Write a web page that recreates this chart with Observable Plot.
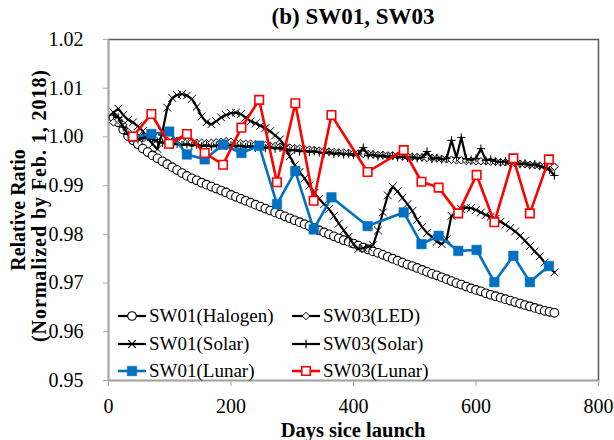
<!DOCTYPE html>
<html><head><meta charset="utf-8">
<script src="https://cdn.jsdelivr.net/npm/d3@7"></script>
<script src="https://cdn.jsdelivr.net/npm/@observablehq/plot@0.6"></script>
<style>
body{margin:0;background:#fff;}
#wrap{position:relative;width:614px;height:440px;font-family:"Liberation Serif","Times New Roman",serif;color:#000;overflow:hidden;background:#fff}
#title{height:34px;line-height:34px;font-size:23px;font-weight:bold;text-align:center;padding-left:108px;padding-right:16px;box-sizing:border-box;width:614px}
.leg{position:absolute;display:flex;align-items:center;font-size:19px;white-space:nowrap;line-height:20px;height:20px}
.leg svg{margin-right:3px;overflow:visible}
#labels{position:absolute;left:0;top:0}
</style></head><body>
<div id="wrap"><div id="title">(b) SW01, SW03</div><div id="chart"></div></div>
<script>
// ---- data ----
const xTicks = [0, 200, 400, 600, 800];
const yTicks = [0.95, 0.96, 0.97, 0.98, 0.99, 1.00, 1.01, 1.02];

const days = [
  8,16,24,32,40,48,56,64,72,80,
  88,96,104,112,120,128,136,144,152,160,
  168,176,184,192,200,208,216,224,232,240,
  248,256,264,272,280,288,296,304,312,320,
  328,336,344,352,360,368,376,384,392,400,
  408,416,424,432,440,448,456,464,472,480,
  488,496,504,512,520,528,536,544,552,560,
  568,576,584,592,600,608,616,624,632,640,
  648,656,664,672,680,688,696,704,712,720,
  728];

const sw01Halogen = [
  1.0040,1.0030,1.0015,1.0002,0.9993,0.9985,0.9976,0.9969,0.9962,0.9956,
  0.9950,0.9944,0.9938,0.9932,0.9926,0.9920,0.9915,0.9911,0.9906,0.9902,
  0.9898,0.9894,0.9890,0.9886,0.9881,0.9877,0.9873,0.9869,0.9865,0.9861,
  0.9857,0.9853,0.9849,0.9845,0.9841,0.9837,0.9833,0.9829,0.9825,0.9821,
  0.9817,0.9813,0.9808,0.9804,0.9800,0.9796,0.9792,0.9788,0.9785,0.9781,
  0.9777,0.9773,0.9769,0.9765,0.9762,0.9758,0.9754,0.9750,0.9746,0.9742,
  0.9738,0.9735,0.9731,0.9727,0.9723,0.9719,0.9716,0.9712,0.9708,0.9704,
  0.9700,0.9697,0.9693,0.9689,0.9686,0.9683,0.9679,0.9676,0.9673,0.9670,
  0.9667,0.9664,0.9661,0.9658,0.9655,0.9652,0.9649,0.9646,0.9643,0.9641,
  0.9639];

const sw03LED = [
  1.0030,1.0035,1.0025,1.0010,1.0002,0.9998,1.0000,1.0002,1.0003,1.0000,
  0.9995,0.9992,0.9990,0.9992,0.9991,0.9990,0.9989,0.9988,0.9988,0.9987,
  0.9988,0.9989,0.9990,0.9991,0.9990,0.9988,0.9987,0.9986,0.9986,0.9985,
  0.9984,0.9983,0.9982,0.9981,0.9980,0.9979,0.9978,0.9977,0.9976,0.9975,
  0.9974,0.9973,0.9972,0.9971,0.9970,0.9969,0.9968,0.9968,0.9967,0.9966,
  0.9966,0.9965,0.9965,0.9964,0.9963,0.9963,0.9962,0.9962,0.9961,0.9960,
  0.9960,0.9959,0.9959,0.9958,0.9957,0.9957,0.9956,0.9955,0.9954,0.9953,
  0.9952,0.9952,0.9951,0.9951,0.9950,0.9950,0.9950,0.9949,0.9949,0.9948,
  0.9948,0.9947,0.9946,0.9945,0.9944,0.9943,0.9942,0.9941,0.9940,0.9940,
  0.9939];

const sw01Solar = [
  1.0050,1.0058,1.0045,1.0035,1.0030,1.0022,1.0012,0.9998,0.9985,0.9975,
  1.0010,1.0060,1.0080,1.0086,1.0088,1.0085,1.0078,1.0062,1.0042,1.0030,
  1.0026,1.0032,1.0040,1.0045,1.0049,1.0050,1.0047,1.0040,1.0032,1.0028,
  1.0023,1.0018,1.0012,1.0003,0.9995,0.9978,0.9960,0.9942,0.9928,0.9915,
  0.9900,0.9885,0.9873,0.9862,0.9852,0.9838,0.9822,0.9808,0.9795,0.9780,
  0.9770,0.9772,0.9774,0.9778,0.9808,0.9845,0.9880,0.9898,0.9888,0.9875,
  0.9862,0.9848,0.9830,0.9815,0.9803,0.9795,0.9785,0.9780,0.9790,0.9838,
  0.9846,0.9852,0.9855,0.9854,0.9850,0.9845,0.9840,0.9836,0.9832,0.9826,
  0.9820,0.9813,0.9806,0.9797,0.9787,0.9776,0.9765,0.9755,0.9742,0.9732,
  0.9722];

const sw03Solar = [
  1.0045,1.0040,1.0020,1.0005,1.0000,0.9995,0.9998,1.0000,0.9995,0.9990,
  0.9988,0.9986,0.9984,0.9986,0.9983,0.9985,0.9982,0.9984,0.9981,0.9983,
  0.9980,0.9982,0.9984,0.9981,0.9983,0.9980,0.9982,0.9979,0.9981,0.9978,
  0.9980,0.9977,0.9979,0.9976,0.9978,0.9975,0.9972,0.9974,0.9970,0.9972,
  0.9969,0.9971,0.9968,0.9966,0.9969,0.9965,0.9967,0.9964,0.9966,0.9963,
  0.9965,0.9978,0.9962,0.9964,0.9960,0.9962,0.9959,0.9961,0.9958,0.9960,
  0.9957,0.9959,0.9956,0.9958,0.9970,0.9955,0.9957,0.9954,0.9956,0.9993,
  0.9958,0.9999,0.9955,0.9953,0.9956,0.9976,0.9952,0.9954,0.9950,0.9948,
  0.9950,0.9946,0.9948,0.9944,0.9946,0.9942,0.9944,0.9940,0.9937,0.9932,
  0.9921];

const lunarDays = [40,70,99,128,157,187,217,246,275,305,335,364,423,482,511,539,571,601,630,661,688,719];
const sw01Lunar = [1.0000,1.0006,1.0011,0.9964,0.9954,0.9984,0.9967,0.9982,0.9862,0.9930,0.9810,0.9876,0.9817,0.9845,0.9780,0.9797,0.9766,0.9768,0.9702,0.9756,0.9702,0.9735];
const sw03Lunar = [1.0001,1.0047,0.9986,1.0006,0.9967,0.9943,1.0019,1.0076,0.9907,1.0069,0.9869,1.0045,0.9928,0.9973,0.9908,0.9896,0.9843,0.9922,0.9825,0.9956,0.9843,0.9954];

const seriesNames = ["SW01(Halogen)","SW03(LED)","SW01(Solar)","SW03(Solar)","SW01(Lunar)","SW03(Lunar)"];

// ---- tables ----
const rows = (xs, ys) => xs.map((d, i) => ({day: d, v: ys[i]}));
const hal = rows(days, sw01Halogen);
const led = rows(days, sw03LED);
const s1 = rows(days, sw01Solar);
const s3 = rows(days, sw03Solar);
const l1 = rows(lunarDays, sw01Lunar);
const l3 = rows(lunarDays, sw03Lunar);

const BLUE = "#0070C0", RED = "#FF0000";
const FONT = '"Liberation Serif","Times New Roman",serif';

const chart = Plot.plot({
  width: 614, height: 406,
  marginTop: 5, marginBottom: 60, marginLeft: 108, marginRight: 16,
  style: {fontFamily: FONT, fontSize: "20px", background: "white", color: "black", overflow: "visible"},
  x: {domain: [xTicks[0], xTicks[xTicks.length-1]]},
  y: {domain: [yTicks[0], yTicks[yTicks.length-1]]},
  marks: [
    Plot.frame({stroke: "#595959", strokeWidth: 1.5}),
    Plot.ruleX([xTicks[0]], {stroke: "#a6a6a6", strokeWidth: 1.5}),
    Plot.ruleY([yTicks[0]], {stroke: "#a6a6a6", strokeWidth: 1.5}),
    Plot.axisX({ticks: xTicks, tickSize: 6, tickPadding: 12, stroke: "#a6a6a6", fill: "black", label: null, tickFormat: d3.format("d")}),
    Plot.axisY({ticks: yTicks, tickSize: 5, tickPadding: 20, stroke: "#a6a6a6", fill: "black", label: null, tickFormat: d3.format(".2f")}),
    // SW01 Halogen
    Plot.line(hal, {x: "day", y: "v", stroke: "black", strokeWidth: 1.5}),
    Plot.dot(hal, {x: "day", y: "v", symbol: "circle", r: 4.3, stroke: "black", strokeWidth: 1.1, fill: "white"}),
    // SW03 LED
    Plot.line(led, {x: "day", y: "v", stroke: "black", strokeWidth: 1.5}),
    Plot.dot(led, {x: "day", y: "v", symbol: "diamond2", r: 3.4, stroke: "black", strokeWidth: 1, fill: "white"}),
    // SW01 Solar
    Plot.line(s1, {x: "day", y: "v", stroke: "black", strokeWidth: 2.2}),
    Plot.dot(s1, {x: "day", y: "v", symbol: "times", r: 3.6, stroke: "black", strokeWidth: 1, fill: "none"}),
    // SW03 Solar
    Plot.line(s3, {x: "day", y: "v", stroke: "black", strokeWidth: 2.2}),
    Plot.dot(s3, {x: "day", y: "v", symbol: "plus", r: 2.8, stroke: "black", strokeWidth: 1, fill: "none"}),
    // SW01 Lunar
    Plot.line(l1, {x: "day", y: "v", stroke: BLUE, strokeWidth: 2.6}),
    Plot.dot(l1, {x: "day", y: "v", symbol: "square", r: 5.4, fill: BLUE, stroke: BLUE, strokeWidth: 0.5}),
    // SW03 Lunar
    Plot.line(l3, {x: "day", y: "v", stroke: RED, strokeWidth: 2.6}),
    Plot.dot(l3, {x: "day", y: "v", symbol: "square", r: 4.8, fill: "white", stroke: RED, strokeWidth: 1.6})
  ]
});
document.getElementById("chart").appendChild(chart);

// ---- axis titles ----
const wrap = document.getElementById("wrap");
const ns = "http://www.w3.org/2000/svg";
const lab = document.createElementNS(ns, "svg");
lab.setAttribute("id", "labels");
lab.setAttribute("width", 614); lab.setAttribute("height", 440);
lab.style.fontFamily = FONT;
function addText(str, tr, size, len) {
  const t = document.createElementNS(ns, "text");
  t.setAttribute("transform", tr);
  t.setAttribute("text-anchor", "middle");
  t.setAttribute("font-weight", "bold");
  t.setAttribute("font-size", size);
  if (len) { t.setAttribute("textLength", len); t.setAttribute("lengthAdjust", "spacing"); }
  t.textContent = str;
  lab.appendChild(t);
}
addText("Relative Ratio", "translate(25,210) rotate(-90)", 20);
addText("(Normalized by Feb. 1, 2018)", "translate(46,206) rotate(-90)", 20, 272);
addText("Days sice launch", "translate(353,437)", 20.5);
wrap.appendChild(lab);

// ---- legend ----
const legendSpec = [
  {name: seriesNames[0], col: 0, row: 0, sym: d3.symbolCircle, size: Math.PI*4.3*4.3, line: "black", stroke: "black", fill: "white", sw: 1.1},
  {name: seriesNames[1], col: 1, row: 0, sym: d3.symbolDiamond2, size: Math.PI*3.4*3.4, line: "black", stroke: "black", fill: "white", sw: 1},
  {name: seriesNames[2], col: 0, row: 1, sym: d3.symbolTimes, size: Math.PI*3.6*3.6, line: "black", stroke: "black", fill: "none", sw: 1.2},
  {name: seriesNames[3], col: 1, row: 1, sym: d3.symbolPlus, size: Math.PI*2.8*2.8, line: "black", stroke: "black", fill: "none", sw: 1.2},
  {name: seriesNames[4], col: 0, row: 2, sym: d3.symbolSquare, size: Math.PI*5.4*5.4, line: BLUE, stroke: BLUE, fill: BLUE, sw: 0.5},
  {name: seriesNames[5], col: 1, row: 2, sym: d3.symbolSquare, size: Math.PI*4.8*4.8, line: RED, stroke: RED, fill: "white", sw: 1.6}
];
const colX = [118, 292], rowY = [316, 344, 371];
for (const s of legendSpec) {
  const div = document.createElement("div");
  div.className = "leg";
  div.style.left = colX[s.col] + "px";
  div.style.top = (rowY[s.row] - 10) + "px";
  const sv = document.createElementNS(ns, "svg");
  sv.setAttribute("width", 28); sv.setAttribute("height", 20);
  const ln = document.createElementNS(ns, "line");
  ln.setAttribute("x1", 0); ln.setAttribute("x2", 28); ln.setAttribute("y1", 10); ln.setAttribute("y2", 10);
  ln.setAttribute("stroke", s.line); ln.setAttribute("stroke-width", s.line === "black" ? 2.2 : 2.6);
  sv.appendChild(ln);
  const p = document.createElementNS(ns, "path");
  p.setAttribute("d", d3.symbol(s.sym, s.size)());
  p.setAttribute("transform", "translate(14,10)");
  p.setAttribute("fill", s.fill); p.setAttribute("stroke", s.stroke); p.setAttribute("stroke-width", s.sw);
  sv.appendChild(p);
  div.appendChild(sv);
  const sp = document.createElement("span");
  sp.textContent = s.name;
  div.appendChild(sp);
  wrap.appendChild(div);
}
</script>
</body></html>
